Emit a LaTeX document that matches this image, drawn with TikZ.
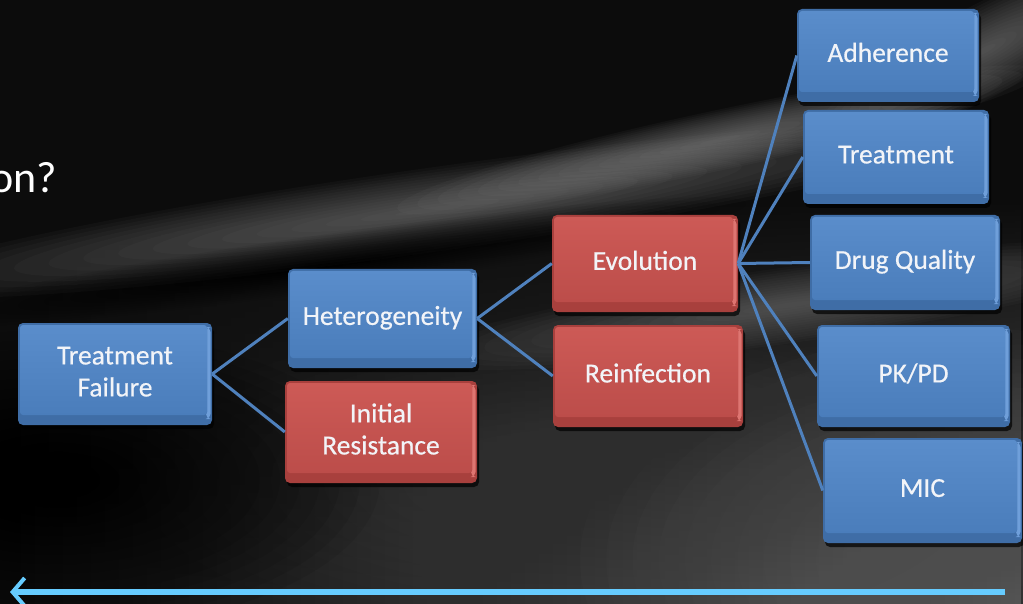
\documentclass[tikz,border=0pt]{standalone}
\usepackage{fontspec}
\setmainfont{Carlito}
\newfontfamily\boxfont{Carlito}[FakeBold=0.5]
\usetikzlibrary{shadows,arrows.meta,fadings}
\definecolor{bgdark}{HTML}{0C0C0C}
\definecolor{bgright}{HTML}{555555}
\definecolor{blueedge}{HTML}{3F6DA6}
\definecolor{bluehi}{HTML}{6F9FDA}
\definecolor{bluetop}{HTML}{5A8DCB}
\definecolor{bluebot}{HTML}{4A7DBB}
\definecolor{rededge}{HTML}{A8403D}
\definecolor{redhi}{HTML}{DE7571}
\definecolor{redtop}{HTML}{CD5A56}
\definecolor{redbot}{HTML}{BC4D4A}
\definecolor{connblue}{HTML}{4F81BD}
\definecolor{arrowblue}{HTML}{66CCFF}
\definecolor{labeltext}{HTML}{F2F4F8}
\newcommand{\boxtext}[1]{\raisebox{8pt}{\begin{tabular}{@{}c@{}}#1\end{tabular}}}
% soft blob: x, y, rx, ry, angle, colour, opacity per layer
\newcommand{\softblob}[7]{%
  \foreach \k in {1,...,16}{%
    \fill[#6, opacity=#7, rotate around={#5:(#1,#2)}] (#1,#2) ellipse ({#3*\k/16} and {#4*\k/16});}}
\tikzset{
  box/.style={rectangle, rounded corners=5pt, inner sep=0pt, align=center,
    text=labeltext, font=\boxfont\fontsize{27.5}{32}\selectfont,
    drop shadow={shadow xshift=2pt, shadow yshift=-4pt, opacity=0.7, fill=black}},
  bluebox/.style={box, fill=blueedge, path picture={
    \fill[bluehi]
      ([shift={(-6pt,-4pt)}]path picture bounding box.north east) rectangle
      ([shift={(-1.5pt,6pt)}]path picture bounding box.south east);
    \fill[top color=bluetop, bottom color=bluebot, rounded corners=3pt]
      ([shift={(2pt,-2pt)}]path picture bounding box.north west) rectangle
      ([shift={(-5pt,10pt)}]path picture bounding box.south east);}},
  redbox/.style={box, fill=rededge, path picture={
    \fill[redhi]
      ([shift={(-6pt,-4pt)}]path picture bounding box.north east) rectangle
      ([shift={(-1.5pt,6pt)}]path picture bounding box.south east);
    \fill[top color=redtop, bottom color=redbot, rounded corners=3pt]
      ([shift={(2pt,-2pt)}]path picture bounding box.north west) rectangle
      ([shift={(-5pt,10pt)}]path picture bounding box.south east);}},
  conn/.style={draw=connblue, line width=3pt},
}
\begin{document}
\begin{tikzpicture}[x=1pt, y=-1pt]
\useasboundingbox (0,0) rectangle (1023,604);
% background
\fill[bgdark] (0,0) rectangle (1023,604);
\begin{scope}
\clip (0,0) rectangle (1023,604);
\shade[left color=bgdark, right color=bgright, path fading=north]
  (0,200) rectangle (1023,604);
\softblob{1000}{560}{420}{230}{0}{gray!75!black}{0.05}
\softblob{560}{480}{420}{160}{0}{gray!60!black}{0.03}
\softblob{60}{480}{320}{150}{0}{black}{0.07}
% swooshes
\softblob{430}{210}{560}{42}{8}{gray!80!white}{0.045}
\softblob{720}{140}{330}{30}{12}{gray!80!white}{0.05}
\softblob{985}{50}{190}{45}{28}{gray!90!white}{0.05}
\softblob{790}{305}{380}{38}{8}{gray!80!white}{0.035}
\softblob{330}{262}{420}{28}{8}{black}{0.06}
\end{scope}
% partial title text
\node[anchor=base west, inner sep=0pt, text=white, font=\fontsize{44}{50}\selectfont] (title) at (-10,193) {on?};
% boxes
\node[bluebox, minimum width=194pt, minimum height=102pt] (tf) at (115,374) {\boxtext{Treatment\\Failure}};
\node[bluebox, minimum width=189pt, minimum height=99pt] (het) at (382.5,318.5) {\boxtext{Heterogeneity}};
\node[redbox, minimum width=192pt, minimum height=102pt] (ir) at (381,432) {\boxtext{Initial\\Resistance}};
\node[redbox, minimum width=186pt, minimum height=97pt] (evo) at (645,263.5) {\boxtext{Evolution}};
\node[redbox, minimum width=190pt, minimum height=102pt] (rein) at (648,376) {\boxtext{Reinfection}};
\node[bluebox, minimum width=182pt, minimum height=93pt] (adh) at (888,55.5) {\boxtext{Adherence}};
\node[bluebox, minimum width=186pt, minimum height=94pt] (trt) at (896,157) {\boxtext{Treatment}};
\node[bluebox, minimum width=190pt, minimum height=95pt] (dq) at (905,262.5) {\boxtext{Drug Quality}};
\node[bluebox, minimum width=193pt, minimum height=102pt] (pk) at (913.5,376) {\boxtext{PK/PD}};
\node[bluebox, minimum width=199pt, minimum height=105pt] (mic) at (922.5,490.5) {\boxtext{MIC}};
% connectors
\draw[conn] (tf.east) -- (het.west);
\draw[conn] (tf.east) -- (ir.west);
\draw[conn] (het.east) -- (evo.west);
\draw[conn] (het.east) -- (rein.west);
\draw[conn] (evo.east) -- (adh.west);
\draw[conn] (evo.east) -- (trt.west);
\draw[conn] (evo.east) -- (dq.west);
\draw[conn] (evo.east) -- (pk.west);
\draw[conn] (evo.east) -- (mic.west);
% bottom arrow
\coordinate (arrS) at (1005,592);
\coordinate (arrE) at (10,592);
\draw[arrowblue, line width=6pt, -{Straight Barb[length=12pt, width=28pt, line width=4pt]}] (arrS) -- (arrE);
\end{tikzpicture}
\end{document}
